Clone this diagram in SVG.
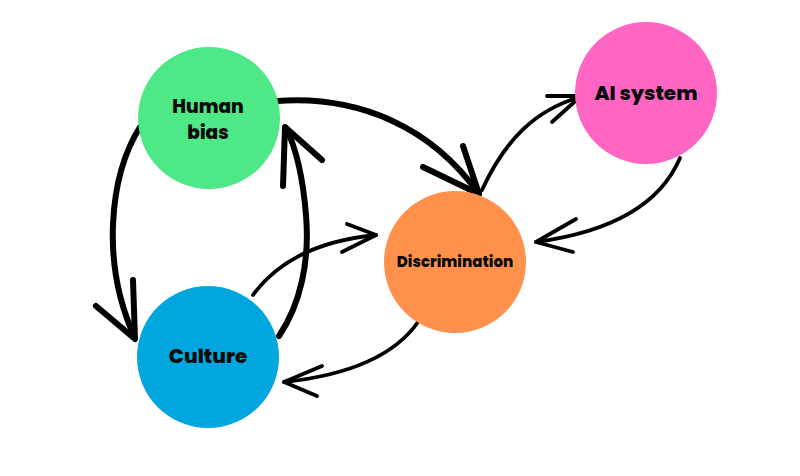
<svg xmlns="http://www.w3.org/2000/svg" width="800" height="476" viewBox="0 0 800 476">
<style>
.lbl{font-family:"Poppins","Inter","Liberation Sans",sans-serif;font-weight:800;fill:#0b0b0b;text-anchor:middle}
.thick{fill:none;stroke:#000;stroke-width:6;stroke-linecap:round;stroke-linejoin:round}
.thin{fill:none;stroke:#000;stroke-width:3.8;stroke-linecap:round;stroke-linejoin:round}
</style>
<rect width="800" height="476" fill="#fff"/>
<g id="connectors">
<!-- Human bias -> Discrimination -->
<path class="thick" d="M277,101 C360,95 432,128 479,194"/>
<path class="thick" d="M423,167 L479,194 L463,146"/>
<!-- Discrimination -> AI system -->
<path class="thin" d="M482,190 C505,140 535,110 580,97"/>
<path class="thin" d="M547,96 L581,96 L552,122"/>
<!-- AI system -> Discrimination -->
<path class="thin" d="M680,158 C660,205 610,232 536,242"/>
<path class="thin" d="M576,219 L536,242 L573,252"/>
<!-- Discrimination -> Culture -->
<path class="thin" d="M418,322 C395,355 350,375 284,382"/>
<path class="thin" d="M322,366 L284,382 L317,396"/>
<!-- Culture -> Discrimination -->
<path class="thin" d="M253,295 C280,258 325,240 376,235"/>
<path class="thin" d="M347,224 L376,235 L342,252"/>
<!-- Culture -> Human bias -->
<path class="thick" d="M279,336 C300,305 310,262 306,215 C303,178 297,150 286,128"/>
<path class="thick" d="M283,186 L285,127 L322,160"/>
<!-- Human bias -> Culture -->
<path class="thick" d="M140,127 C110,175 100,262 135,338"/>
<path class="thick" d="M96,306 L135,339 L133,280"/>
</g>
<g id="human-bias">
<circle cx="209" cy="118" r="71" fill="#4EE886"/>
<text class="lbl" font-size="18.5"><tspan x="208" y="112.5">Human</tspan><tspan x="208" y="138.5">bias</tspan></text>
</g>
<g id="culture">
<circle cx="208" cy="357" r="71" fill="#00A6DD"/>
<text class="lbl" x="208" y="363" font-size="20">Culture</text>
</g>
<g id="discrimination">
<circle cx="455" cy="262" r="71" fill="#FF914D"/>
<text class="lbl" x="455" y="267" font-size="15">Discrimination</text>
</g>
<g id="ai-system">
<circle cx="646" cy="93" r="71" fill="#FF66C4"/>
<text class="lbl" x="646" y="100" font-size="20">AI system</text>
</g>
</svg>
